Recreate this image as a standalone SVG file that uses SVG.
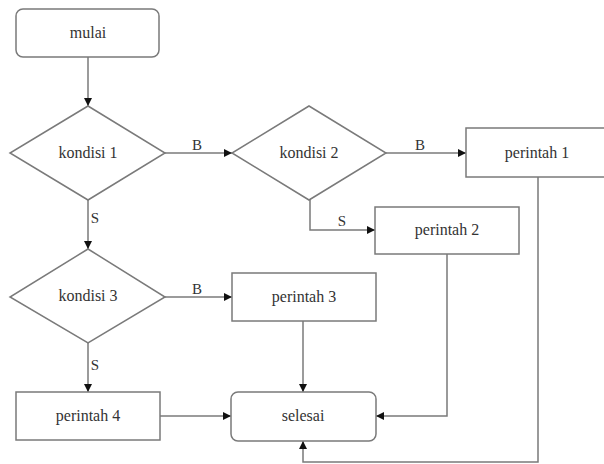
<svg xmlns="http://www.w3.org/2000/svg" width="604" height="464" viewBox="0 0 604 464">
<defs>
<marker id="ah" markerWidth="10" markerHeight="10" refX="9" refY="5" orient="auto" markerUnits="userSpaceOnUse">
<path d="M1,1 L9,5 L1,9 Z" fill="#111"/>
</marker>
<style>
.box{fill:#fff;stroke:#7a7a7a;stroke-width:1.5}
.ln{fill:none;stroke:#7a7a7a;stroke-width:1.5;marker-end:url(#ah)}
text{font-family:'Liberation Serif','Times New Roman','DejaVu Serif',serif;fill:#333}
.t{font-size:16px;text-anchor:middle}
.lb{font-size:15px;text-anchor:middle}
</style>
</defs>
<rect width="604" height="464" fill="#fff"/>
<g id="connectors">
<path class="ln" d="M88,57 V106"/>
<path class="ln" d="M165,153 H232"/>
<path class="ln" d="M386,153 H466"/>
<path class="ln" d="M310,200 V230 H375"/>
<path class="ln" d="M88,200 V249"/>
<path class="ln" d="M165,297 H232"/>
<path class="ln" d="M88,343 V392"/>
<path class="ln" d="M303,321 V392"/>
<path class="ln" d="M160,416 H231"/>
<path class="ln" d="M447,254 V416 H376"/>
<path class="ln" d="M538,177 V462 H303 V441"/>
<text class="lb" x="197" y="150">B</text>
<text class="lb" x="420" y="150">B</text>
<text class="lb" x="342" y="226">S</text>
<text class="lb" x="95" y="223">S</text>
<text class="lb" x="197" y="294">B</text>
<text class="lb" x="95" y="370">S</text>
</g>
<g id="mulai"><rect class="box" x="16" y="9" width="143" height="48" rx="7"/><text class="t" x="88" y="38">mulai</text></g>
<g id="kondisi1"><polygon class="box" points="88,106 165,153 88,200 10,153"/><text class="t" x="88" y="158">kondisi 1</text></g>
<g id="kondisi2"><polygon class="box" points="309,106 386,153 309,200 232,153"/><text class="t" x="309" y="158">kondisi 2</text></g>
<g id="perintah1"><rect class="box" x="466" y="128" width="145" height="49"/><text class="t" x="537" y="158">perintah 1</text></g>
<g id="perintah2"><rect class="box" x="375" y="207" width="144" height="47"/><text class="t" x="447" y="235">perintah 2</text></g>
<g id="kondisi3"><polygon class="box" points="88,249 165,297 88,343 10,297"/><text class="t" x="88" y="301">kondisi 3</text></g>
<g id="perintah3"><rect class="box" x="232" y="273" width="144" height="48"/><text class="t" x="304" y="302">perintah 3</text></g>
<g id="perintah4"><rect class="box" x="16" y="392" width="144" height="48"/><text class="t" x="88" y="421">perintah 4</text></g>
<g id="selesai"><rect class="box" x="231" y="392" width="145" height="49" rx="7"/><text class="t" x="303" y="421">selesai</text></g>
</svg>
